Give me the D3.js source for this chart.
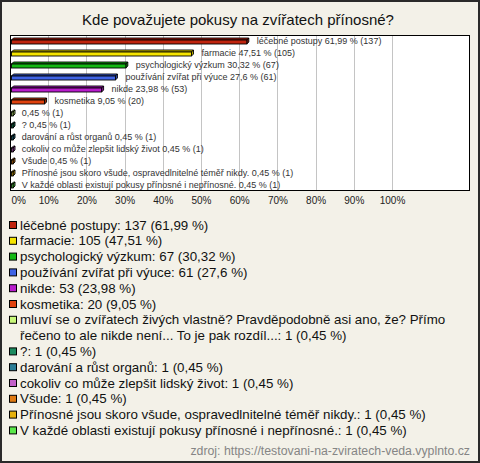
<!DOCTYPE html>
<html><head><meta charset="utf-8">
<script src="https://cdn.jsdelivr.net/npm/d3@7/dist/d3.min.js"></script>
<style>
html,body{margin:0;padding:0;background:#fff;}
svg{display:block;font-family:"Liberation Sans",Arial,sans-serif;}
</style></head>
<body>
<svg id="chart" width="480" height="463"></svg>
<script>
const title = "Kde považujete pokusy na zvířatech přínosné?";
const categories = [
  "léčebné postupy",
  "farmacie",
  "psychologický výzkum",
  "používání zvířat při výuce",
  "nikde",
  "kosmetika",
  "mluví se o zvířatech živých vlastně? Pravděpodobně asi ano, že? Přímo řečeno to ale nikde není... To je pak rozdíl...",
  "?",
  "darování a růst organů",
  "cokoliv co může zlepšit lidský život",
  "Všude",
  "Přínosné jsou skoro všude, ospravedlnitelné téměř nikdy.",
  "V každé oblasti existují pokusy přínosné i nepřínosné."
];
const barNames = [
  "léčebné postupy", "farmacie", "psychologický výzkum", "používání zvířat při výuce",
  "nikde", "kosmetika", "", "?", "darování a růst organů",
  "cokoliv co může zlepšit lidský život", "Všude",
  "Přínosné jsou skoro všude, ospravedlnitelné téměř nikdy.",
  "V každé oblasti existují pokusy přínosné i nepřínosné."
];
const counts = [137, 105, 67, 61, 53, 20, 1, 1, 1, 1, 1, 1, 1];
const percents = [61.99, 47.51, 30.32, 27.6, 23.98, 9.05, 0.45, 0.45, 0.45, 0.45, 0.45, 0.45, 0.45];
const colors = ["#c0240e", "#f5e400", "#14b814", "#3f63e4", "#b81ccc", "#e0420e",
  "#c8f87a", "#1b8a5e", "#2a7d96", "#c260c8", "#e07a12", "#e6b20e", "#5ae84a"];
const tickValues = [0, 10, 20, 30, 40, 50, 60, 70, 80, 90, 100];
const source = "zdroj: https://testovani-na-zviratech-veda.vyplnto.cz";

const fmt = v => String(v).replace(".", ",");
const svg = d3.select("#chart");

// background frame
svg.append("rect").attr("x", 1).attr("y", 1).attr("width", 478).attr("height", 461)
  .attr("fill", "#f3f1e8").attr("stroke", "#2a2a2a").attr("stroke-width", 2);

svg.append("text").attr("x", 238).attr("y", 25).attr("text-anchor", "middle")
  .attr("font-size", 15).attr("fill", "#111").text(title);

const plot = {x0: 10, x1: 470, y0: 35, y1: 191};
const x = d3.scaleLinear().domain([0, 100]).range([10, 392]);
const y = d3.scaleBand().domain(d3.range(categories.length)).range([plot.y0, plot.y1]);

svg.append("rect").attr("x", plot.x0 + 0.5).attr("y", plot.y0 + 0.5)
  .attr("width", plot.x1 - plot.x0 - 1).attr("height", plot.y1 - plot.y0 - 1)
  .attr("fill", "#fff");

// grid
svg.append("g").selectAll("line").data(tickValues.slice(1)).join("line")
  .attr("x1", d => Math.round(x(d)) + 0.5).attr("x2", d => Math.round(x(d)) + 0.5)
  .attr("y1", plot.y0).attr("y2", plot.y1)
  .attr("stroke", "#c4c4c4").attr("stroke-width", 1);

// bars (3D style)
const bars = svg.append("g");
categories.forEach((c, i) => {
  const cy = y(i) + y.bandwidth() / 2;
  const xs = x(0) + 1.5, xe = Math.max(x(percents[i]), xs + 1.5);
  const top = cy - 1, bot = cy + 3, d = 2;
  const base = d3.color(colors[i]);
  const dark = base.darker(0.8);
  bars.append("path")
    .attr("d", `M${xs},${top}L${xs + d},${top - d}L${xe + d},${top - d}L${xe},${top}Z`)
    .attr("fill", base.darker(0.3)).attr("stroke", "#000").attr("stroke-width", 0.9);
  bars.append("path")
    .attr("d", `M${xe},${top}L${xe + d},${top - d}L${xe + d},${bot - d}L${xe},${bot}Z`)
    .attr("fill", dark).attr("stroke", "#000").attr("stroke-width", 0.9);
  bars.append("rect").attr("x", xs).attr("y", top).attr("width", xe - xs).attr("height", bot - top)
    .attr("fill", base).attr("stroke", "#000").attr("stroke-width", 0.9);
  const lbl = (barNames[i] ? barNames[i] + " " : "") + fmt(percents[i]) + " % (" + counts[i] + ")";
  bars.append("text").attr("x", x(percents[i]) + 10).attr("y", cy + 3.2)
    .attr("font-size", 9).attr("fill", "#333").text(lbl);
});

// plot border
svg.append("rect").attr("x", plot.x0 + 0.5).attr("y", plot.y0 + 0.5)
  .attr("width", plot.x1 - plot.x0 - 1).attr("height", plot.y1 - plot.y0 - 1)
  .attr("fill", "none").attr("stroke", "#000").attr("stroke-width", 1);

// axis labels
const axis = svg.append("g").attr("transform", `translate(0,${plot.y1})`)
  .call(d3.axisBottom(x).tickValues(tickValues).tickFormat(d => d + "%").tickSize(0).tickPadding(6));
axis.select(".domain").remove();
axis.selectAll("text").attr("font-size", 10).attr("fill", "#222")
  .attr("font-family", "Liberation Sans, Arial, sans-serif");
axis.selectAll(".tick").filter(d => d === 0).select("text").attr("text-anchor", "start").attr("x", 1);

// legend
const leg = svg.append("g");
let line = 0;
const lh = 15.8, ly0 = 225, maxW = 452;
categories.forEach((c, i) => {
  const cy = ly0 + line * lh;
  leg.append("rect").attr("x", 9.5).attr("y", cy - 3.5).attr("width", 7).attr("height", 7)
    .attr("fill", colors[i]).attr("stroke", "#000").attr("stroke-width", 1);
  const full = c + ": " + counts[i] + " (" + fmt(percents[i]) + " %)";
  const t = leg.append("text").attr("x", 20).attr("y", cy + 4.6).attr("font-size", 13.33).attr("fill", "#111");
  const words = full.split(" ");
  let cur = [], ts = t.append("tspan").attr("x", 20);
  let nLines = 1;
  words.forEach(w => {
    cur.push(w);
    ts.text(cur.join(" "));
    if (ts.node().getComputedTextLength() > maxW && cur.length > 1) {
      cur.pop(); ts.text(cur.join(" "));
      cur = [w];
      ts = t.append("tspan").attr("x", 20).attr("dy", lh).text(w);
      nLines++;
    }
  });
  line += nLines;
});

svg.append("text").attr("x", 470).attr("y", 455).attr("text-anchor", "end")
  .attr("font-size", 12.3).attr("fill", "#858585").text(source);
</script>
</body></html>
